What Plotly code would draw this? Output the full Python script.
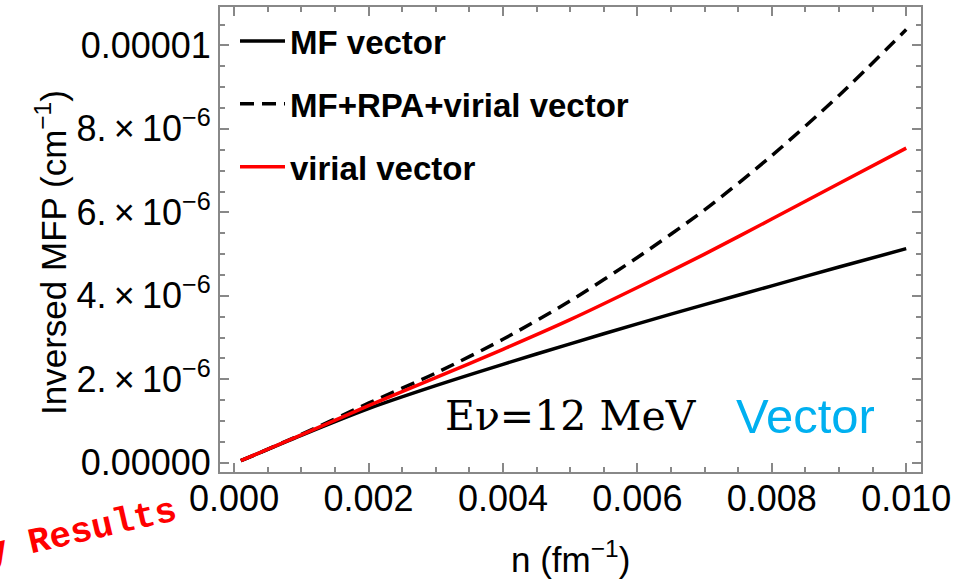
import plotly.graph_objects as go

# density n (fm^-1)
n_vals = [0.0001, 0.001, 0.002, 0.003, 0.004, 0.005, 0.006, 0.007, 0.008, 0.009, 0.010]
# inversed MFP (cm^-1)
mf_vector = [0.05e-6, 0.66e-6, 1.30e-6, 1.85e-6, 2.36e-6, 2.85e-6, 3.33e-6, 3.79e-6, 4.24e-6, 4.69e-6, 5.13e-6]
mf_rpa_virial_vector = [0.05e-6, 0.68e-6, 1.43e-6, 2.15e-6, 2.96e-6, 3.88e-6, 4.92e-6, 6.06e-6, 7.36e-6, 8.80e-6, 10.38e-6]
virial_vector = [0.05e-6, 0.67e-6, 1.37e-6, 2.04e-6, 2.72e-6, 3.43e-6, 4.20e-6, 5.00e-6, 5.84e-6, 6.69e-6, 7.54e-6]

x_tickvals = [0.0, 0.002, 0.004, 0.006, 0.008, 0.010]
x_ticktext = ["0.000", "0.002", "0.004", "0.006", "0.008", "0.010"]
y_tickvals = [0.0, 2e-6, 4e-6, 6e-6, 8e-6, 1e-5]
y_ticktext = ["0.00000", "2.\u2009\u00d7\u200910<sup>\u22126</sup>", "4.\u2009\u00d7\u200910<sup>\u22126</sup>",
              "6.\u2009\u00d7\u200910<sup>\u22126</sup>", "8.\u2009\u00d7\u200910<sup>\u22126</sup>", "0.00001"]

SANS = "Liberation Sans, Arial, sans-serif"

fig = go.Figure()
fig.add_trace(go.Scatter(x=n_vals, y=mf_vector, mode="lines", name="MF vector", legendgroup="a",
                         line=dict(color="black", width=3.5, shape="spline", smoothing=0.8)))
fig.add_trace(go.Scatter(x=n_vals, y=mf_rpa_virial_vector, mode="lines", name="MF+RPA+virial vector",
                         legendgroup="b",
                         line=dict(color="black", width=3.5, dash="14px,8px", shape="spline", smoothing=0.8)))
fig.add_trace(go.Scatter(x=n_vals, y=virial_vector, mode="lines", name="virial vector", legendgroup="c",
                         line=dict(color="#ff0000", width=3.5, shape="spline", smoothing=0.8)))

axis_common = dict(showgrid=False, zeroline=False, showline=True, linecolor="#888888", linewidth=2,
                   mirror="allticks", ticks="inside", tickcolor="#888888", tickwidth=2, ticklen=9,
                   tickfont=dict(family=SANS, size=36, color="black"))

fig.update_xaxes(range=[-0.00021, 0.01022], tickmode="array", tickvals=x_tickvals, ticktext=x_ticktext,
                 minor=dict(ticks="inside", dtick=0.0005, tick0=0, ticklen=5, tickcolor="#888888", tickwidth=2),
                 **axis_common)
fig.update_yaxes(range=[-0.22e-6, 10.92e-6], tickmode="array", tickvals=y_tickvals, ticktext=y_ticktext,
                 minor=dict(ticks="inside", dtick=0.5e-6, tick0=0, ticklen=5, tickcolor="#888888", tickwidth=2),
                 **axis_common)
try:
    fig.update_xaxes(ticklabelstandoff=-6)
except Exception:
    pass

# axis titles
fig.add_annotation(text="n (fm<sup>\u22121</sup>)", xref="paper", yref="paper",
                   x=0.5, y=(472 - 557) / 467, xanchor="center", yanchor="middle", showarrow=False,
                   font=dict(family=SANS, size=35, color="black"))
fig.add_annotation(text="Inversed MFP (cm<sup>\u22121</sup>)", xref="paper", yref="paper",
                   x=(51 - 220) / 701, y=(472 - 252) / 467, xanchor="center", yanchor="middle",
                   textangle=-90, showarrow=False, font=dict(family=SANS, size=35, color="black"))

fig.add_annotation(text="E\u03bd=12 MeV", xref="paper", yref="paper",
                   x=(443 - 220) / 701, y=(472 - 416) / 467, xanchor="left", yanchor="middle",
                   showarrow=False, font=dict(family="DejaVu Serif, serif", size=41, color="black"))
fig.add_annotation(text="Vector", xref="paper", yref="paper",
                   x=(734 - 220) / 701, y=(472 - 416) / 467, xanchor="left", yanchor="middle",
                   showarrow=False, font=dict(family=SANS, size=49, color="#00b0f0"))
fig.add_annotation(text="<b>Preliminary Results</b>", xref="paper", yref="paper",
                   x=(-24 - 220) / 701, y=(472 - 557) / 467, xanchor="center", yanchor="middle",
                   textangle=-13, showarrow=False,
                   font=dict(family="Liberation Mono, Courier New, monospace", size=36, color="#ff0000"))

fig.update_layout(
    width=971, height=584,
    margin=dict(l=220, r=50, t=5, b=112),
    paper_bgcolor="white", plot_bgcolor="white",
    showlegend=True,
    legend=dict(x=(235 - 220) / 701, y=(472 - 11) / 467, xanchor="left", yanchor="top",
                bgcolor="rgba(0,0,0,0)", tracegroupgap=17, itemwidth=45,
                font=dict(family=SANS, size=33, color="black", weight="bold")),
)

fig.write_html("out.html", config={"displayModeBar": False},
               post_script="document.body.style.margin='0';document.body.style.padding='0';")
